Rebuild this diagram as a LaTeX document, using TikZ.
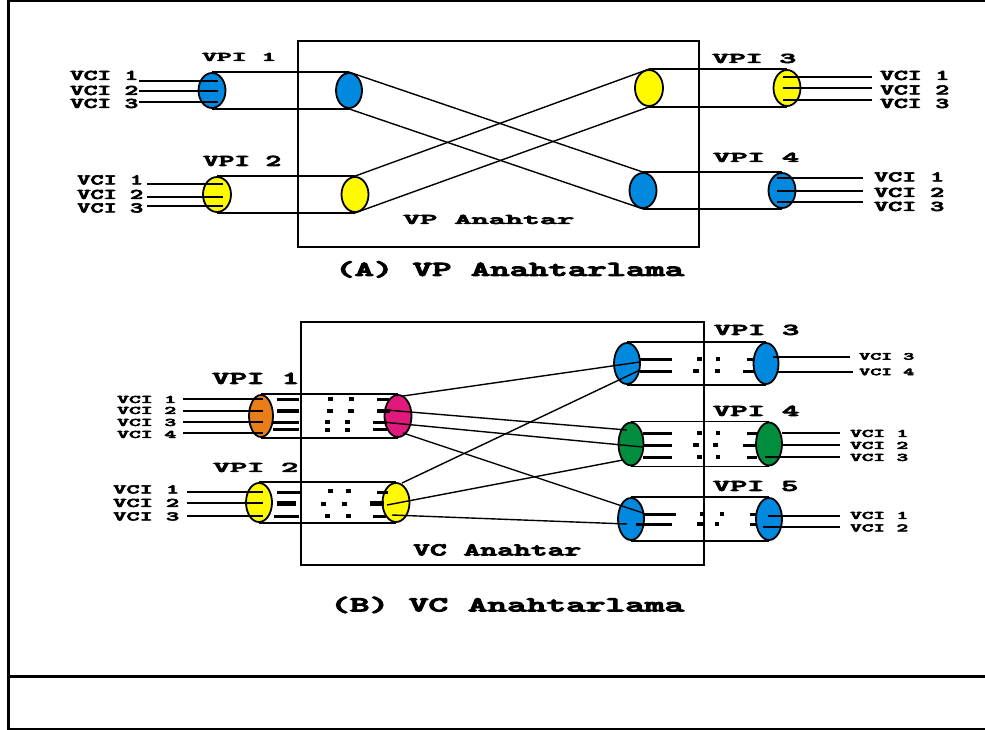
\documentclass[tikz,border=0pt]{standalone}
\usepackage{fontspec}
\usepackage{graphicx}
\usetikzlibrary{shapes.geometric,calc}
\newfontfamily\lfont[FakeBold=4]{lmmonolt10-bold.otf}
\newcommand\lab[3]{\resizebox{#1pt}{#2pt}{\lfont\smash{#3}\vphantom{V}}}
\definecolor{cblue}{RGB}{0,137,222}
\definecolor{cyel}{RGB}{255,250,0}
\definecolor{corange}{RGB}{232,126,24}
\definecolor{cmag}{RGB}{224,26,124}
\definecolor{cgreen}{RGB}{0,142,62}
\begin{document}
\begin{tikzpicture}[x=1pt,y=-1pt,
  frame/.style={line width=2.6pt},
  boxln/.style={line width=2.2pt},
  tube/.style={line width=1.6pt},
  wire/.style={line width=1.4pt},
  wirethick/.style={line width=2.2pt},
  cross/.style={line width=1.4pt},
  ell/.style={ellipse,draw=black,line width=1.8pt,inner sep=0pt},
  ellA/.style={ell,minimum width=27pt,minimum height=35pt},
  ellB/.style={ell,minimum width=26pt,minimum height=42pt},
  bar/.style={line width=3pt},
  tbar/.style={line width=4.5pt},
  dot/.style={line width=4pt},
  lbl/.style={inner sep=0pt,anchor=west}
]
\useasboundingbox (0,0) rectangle (985,730);
% outer frame
\draw[frame] (8.5,730) -- (8.5,1.2) -- (985,1.2);
\draw[frame] (8.5,676.5) -- (985,676.5);
\draw[frame] (8.5,729) -- (985,729);

% ================= (A) =================
\draw[boxln] (298,41) rectangle (699,247);
\node[ellA,fill=cblue] (a1) at (212,90.5) {};
\node[ellA,fill=cblue,minimum width=26pt] (a2) at (349,90.5) {};
\node[ellA,fill=cyel,minimum width=28pt] (a3) at (217,194.5) {};
\node[ellA,fill=cyel] (a4) at (355,194.5) {};
\node[ellA,fill=cyel,minimum width=28pt,minimum height=36pt] (a5) at (649,88) {};
\node[ellA,fill=cyel,minimum height=36pt] (a6) at (787,88) {};
\node[ellA,fill=cblue] (a7) at (643,190.5) {};
\node[ellA,fill=cblue] (a8) at (782,190.5) {};
\foreach \p/\q in {a1/a2,a3/a4,a5/a6,a7/a8}{
  \draw[tube] (\p.north) -- (\q.north);
  \draw[tube] (\p.south) -- (\q.south);}
\draw[cross] (a2.north) -- (a7.north);
\draw[cross] (a2.south) -- (a7.south);
\draw[cross] (a4.north) -- (a5.north);
\draw[cross] (a4.south) -- (a5.south);
% VCI wires (A)
\foreach \y [count=\i] in {81,91,102}{
  \coordinate (la\i) at (139,\y);
  \draw[wire] (la\i) -- ($(la\i -| a1)+(6,0)$);}
\foreach \y [count=\i] in {184,197,206}{
  \coordinate (lb\i) at (147,\y);
  \draw[wire] (lb\i) -- ($(lb\i -| a3)+(6,0)$);}
\foreach \y [count=\i] in {77,88,100}{
  \coordinate (ra\i) at (872,\y);
  \draw[wire] ($(ra\i -| a6)+(-4,0)$) -- (ra\i);}
\foreach \y [count=\i] in {178,191,202}{
  \coordinate (rb\i) at (863,\y);
  \draw[wire] ($(rb\i -| a8)+(-5,0)$) -- (rb\i);}
% labels (A)
\node[lbl] (tA1) at (70,75.5) {\lab{68}{9}{VCI 1}};
\node[lbl] (tA2) at (70,90.5) {\lab{68}{9}{VCI 2}};
\node[lbl] (tA3) at (70,103.5) {\lab{68}{9}{VCI 3}};
\node[lbl] (tA4) at (202,57) {\lab{74}{8}{VPI 1}};
\node[lbl] (tA5) at (203,161) {\lab{78}{10}{VPI 2}};
\node[lbl] (tA6) at (77,180) {\lab{66}{9}{VCI 1}};
\node[lbl] (tA7) at (77,194.5) {\lab{66}{9}{VCI 2}};
\node[lbl] (tA8) at (77,208) {\lab{66}{9}{VCI 3}};
\node[lbl] (tA9) at (712,58.5) {\lab{84}{9}{VPI 3}};
\node[lbl] (tA10) at (880,75.5) {\lab{69}{9}{VCI 1}};
\node[lbl] (tA11) at (880,90) {\lab{69}{9}{VCI 2}};
\node[lbl] (tA12) at (880,103.5) {\lab{69}{9}{VCI 3}};
\node[lbl] (tA13) at (713,157.5) {\lab{86}{9}{VPI 4}};
\node[lbl] (tA14) at (874,177) {\lab{70}{9}{VCI 1}};
\node[lbl] (tA15) at (874,192.5) {\lab{70}{9}{VCI 2}};
\node[lbl] (tA16) at (874,206.5) {\lab{70}{9}{VCI 3}};
\node[lbl] (tA17) at (403,219.5) {\lab{171}{9}{VP Anahtar}};
\node[lbl] (tA18) at (335,269.5) {\lab{349}{13}{(A) VP Anahtarlama}};

% ================= (B) =================
\draw[boxln] (301,322) rectangle (704,565);
\node[ellB,fill=corange,minimum width=24pt] (b1) at (261,416) {};
\node[ellB,fill=cmag,minimum width=27pt] (b2) at (398,416) {};
\node[ellB,fill=cyel,minimum height=39pt] (b3) at (259,502.5) {};
\node[ellB,fill=cyel,minimum width=27pt,minimum height=39pt] (b4) at (396,502.5) {};
\node[ellB,fill=cblue,minimum height=41pt] (b5) at (627,363.5) {};
\node[ellB,fill=cblue,minimum width=25pt,minimum height=41pt] (b6) at (766,363.5) {};
\node[ellB,fill=cgreen,minimum width=25pt,minimum height=43pt] (b7) at (631,444) {};
\node[ellB,fill=cgreen,minimum height=43pt] (b8) at (769,444) {};
\node[ellB,fill=cblue] (b9) at (631,519) {};
\node[ellB,fill=cblue] (b10) at (769,519) {};
\foreach \p/\q in {b1/b2,b3/b4,b5/b6,b7/b8,b9/b10}{
  \draw[tube] (\p.north) -- (\q.north);
  \draw[tube] (\p.south) -- (\q.south);}
% VCI wires (B) left
\foreach \y/\s [count=\i] in {399/wire,411/wire,422/wirethick,433/wirethick}{
  \coordinate (lc\i) at (183,\y);
  \draw[\s] (lc\i) -- ($(lc\i -| b1)+(2,0)$);}
\foreach \y [count=\i] in {492,503,516}{
  \coordinate (ld\i) at (187,\y);
  \draw[wire] (ld\i) -- ($(ld\i -| b3)+(4,0)$);}
% VCI wires (B) right
\coordinate (re1) at (850,357);
\coordinate (re2) at (853,372);
\draw[wirethick] ($(re1 -| b6)+(7,0)$) -- (re1);
\draw[wire] ($(re2 -| b6)+(12,0)$) -- (re2);
\coordinate (rf1) at (840,433);
\coordinate (rf2) at (840,445);
\coordinate (rf3) at (840,457);
\draw[wirethick] ($(rf1 -| b8)+(13,0)$) -- (rf1);
\draw[wire] ($(rf2 -| b8)+(13,0)$) -- (rf2);
\draw[wire] ($(rf3 -| b8)+(-4,0)$) -- (rf3);
\coordinate (rg1) at (840,516);
\coordinate (rg2) at (840,527);
\draw[wirethick] ($(rg1 -| b10)+(-1,0)$) -- (rg1);
\draw[wire] ($(rg2 -| b10)+(-6,0)$) -- (rg2);
% switching bars inside the VC switch (left tubes)
\draw[bar] (277,399) -- (299,399);  \draw[dot] (328,399) -- (333,399); \draw[dot] (349,399) -- (354,399); \draw[bar] (377,399) -- (389,399);
\draw[tbar] (277,411) -- (299,411); \draw[tbar] (327,411) -- (333,411); \draw[tbar] (348,411) -- (354,411); \draw[tbar] (377,411) -- (390,411);
\draw[bar] (273,422) -- (299,422);  \draw[dot] (325,422) -- (330,422); \draw[dot] (345,422) -- (350,422); \draw[bar] (373,422) -- (387,422);
\draw[bar] (273,429.5) -- (299,429.5);  \draw[dot] (325,429.5) -- (330,429.5); \draw[dot] (345,429.5) -- (350,429.5); \draw[bar] (373,429.5) -- (387,429.5);
\draw[bar] (277,492) -- (300,492);  \draw[dot] (328,491) -- (333,491); \draw[dot] (346,491) -- (351,491); \draw[bar] (377,492) -- (388,492);
\draw[tbar] (277,503.5) -- (296,503.5); \draw[dot] (321,504) -- (326,504); \draw[dot] (342,504) -- (347,504); \draw[tbar] (370,503.5) -- (384,503.5);
\draw[bar] (274,516) -- (299,516);  \draw[dot] (325,516) -- (330,516); \draw[dot] (346,516) -- (351,516); \draw[bar] (373,516) -- (386,516);
% switching bars (right tubes)
\draw[bar] (640,359) -- (672,359); \draw[dot] (697,359) -- (702,359); \draw[dot] (716,359) -- (720,359); \draw[bar] (747,359) -- (755,359);
\draw[bar] (640,371) -- (672,371); \draw[dot] (693,371) -- (699,371); \draw[dot] (715,371) -- (720,371); \draw[bar] (743,371) -- (755,371);
\draw[bar] (643,433) -- (672,433); \draw[dot] (697,433) -- (702,433); \draw[dot] (716,433) -- (720,433); \draw[bar] (747,433) -- (757,433);
\draw[bar] (643,445) -- (672,445); \draw[dot] (693,445) -- (699,445); \draw[dot] (713,445) -- (718,445); \draw[bar] (743,445) -- (757,445);
\draw[bar] (643,457) -- (672,457); \draw[dot] (697,457) -- (702,457); \draw[dot] (716,457) -- (720,457); \draw[bar] (747,457) -- (757,457);
\draw[bar] (643,514) -- (676,514); \draw[dot] (700,514) -- (705,514); \draw[dot] (720,514) -- (724,514); \draw[bar] (750,514) -- (757,514);
\draw[bar] (636,524) -- (672,524); \draw[dot] (697,524) -- (705,524); \draw[dot] (715,524) -- (719,524); \draw[bar] (750,524) -- (757,524);
% cross connections (B)
\coordinate (m1) at (403,396); \coordinate (m2) at (386,410);
\coordinate (m3) at (382,422); \coordinate (m4) at (403,433);
\coordinate (y1) at (402,483); \coordinate (y2) at (387,505); \coordinate (y3) at (392,515);
\coordinate (e1) at (640,362); \coordinate (e2) at (640,370);
\coordinate (g1) at (627,430); \coordinate (g2) at (643,447); \coordinate (g3) at (623,460);
\coordinate (h1) at (643,513); \coordinate (h2) at (627,524);
\draw[cross] (m1) -- (e1);
\draw[cross] (m2) -- (g1);
\draw[cross] (m3) -- (g2);
\draw[cross] (m4) -- (h1);
\draw[cross] (y1) -- (e2);
\draw[cross] (y2) -- (g3);
\draw[cross] (y3) -- (h2);
% labels (B)
\node[lbl] (tB1) at (212,378.5) {\lab{87}{11}{VPI 1}};
\node[lbl] (tB2) at (117,399.5) {\lab{59}{7}{VCI 1}};
\node[lbl] (tB3) at (117,410.5) {\lab{59}{7}{VCI 2}};
\node[lbl] (tB4) at (117,422.5) {\lab{59}{7}{VCI 3}};
\node[lbl] (tB5) at (117,434.5) {\lab{59}{7}{VCI 4}};
\node[lbl] (tB6) at (213,467.5) {\lab{85}{9}{VPI 2}};
\node[lbl] (tB7) at (113,489.5) {\lab{66}{8}{VCI 1}};
\node[lbl] (tB8) at (113,503) {\lab{66}{8}{VCI 2}};
\node[lbl] (tB9) at (113,516.5) {\lab{66}{8}{VCI 3}};
\node[lbl] (tB10) at (714,330) {\lab{85}{10}{VPI 3}};
\node[lbl] (tB11) at (859,356.5) {\lab{55}{6.5}{VCI 3}};
\node[lbl] (tB12) at (859,372) {\lab{55}{6.5}{VCI 4}};
\node[lbl] (tB13) at (713,411) {\lab{86}{10}{VPI 4}};
\node[lbl] (tB14) at (850,433.5) {\lab{58}{7}{VCI 1}};
\node[lbl] (tB15) at (850,445.5) {\lab{58}{7}{VCI 2}};
\node[lbl] (tB16) at (850,457.5) {\lab{58}{7}{VCI 3}};
\node[lbl] (tB17) at (713,486) {\lab{85}{10}{VPI 5}};
\node[lbl] (tB18) at (850,515.5) {\lab{58}{7}{VCI 1}};
\node[lbl] (tB19) at (850,528) {\lab{58}{7}{VCI 2}};
\node[lbl] (tB20) at (413,550) {\lab{168}{11}{VC Anahtar}};
\node[lbl] (tB21) at (330,605) {\lab{354}{13}{(B) VC Anahtarlama}};
\end{tikzpicture}
\end{document}
